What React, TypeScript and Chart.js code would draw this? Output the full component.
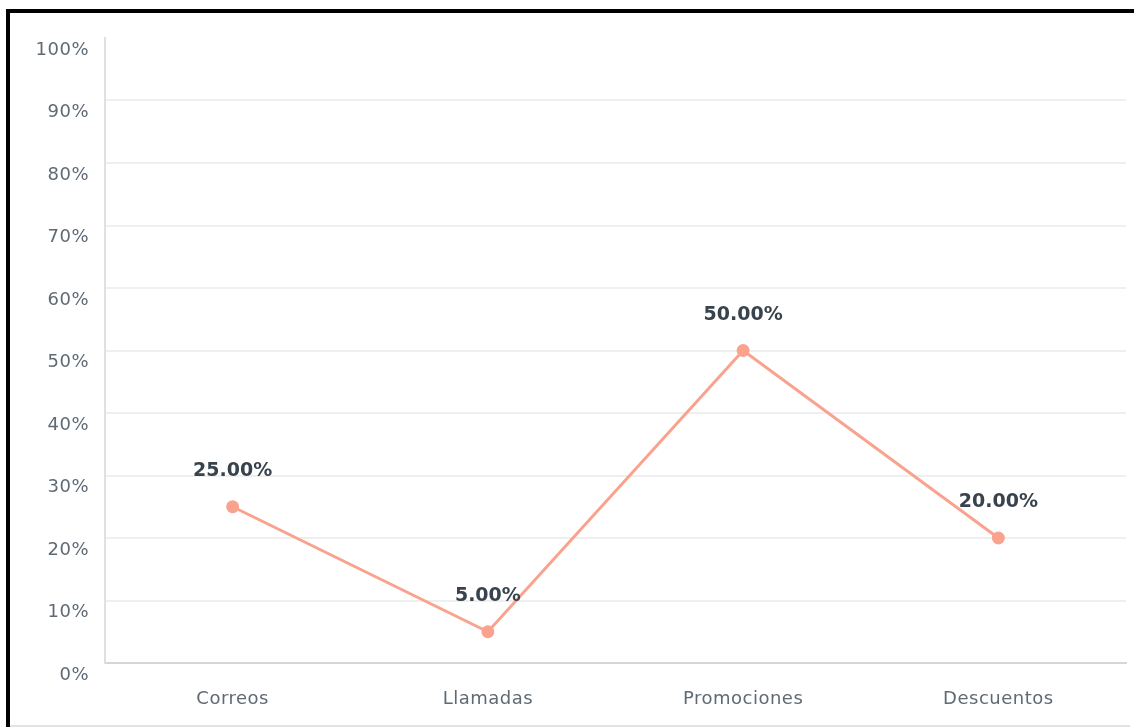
import React, { useEffect, useRef } from "react";
import { Chart, registerables } from "chart.js";

Chart.register(...registerables);

const categories: string[] = ["Correos", "Llamadas", "Promociones", "Descuentos"];
const values: number[] = [25, 5, 50, 20];
const yTicks: number[] = [0, 10, 20, 30, 40, 50, 60, 70, 80, 90, 100];

const TICK_FONT = "DejaVu Sans";

const spacingPlugin = {
  id: "spacing",
  beforeUpdate(chart: any) {
    chart.ctx.letterSpacing = "0.5px";
  },
  beforeDraw(chart: any) {
    chart.ctx.letterSpacing = "0.5px";
  },
};

const labelPlugin = {
  id: "pointLabels",
  afterDatasetsDraw(chart: any) {
    const ctx = chart.ctx;
    const meta = chart.getDatasetMeta(0);
    ctx.save();
    ctx.letterSpacing = "0px";
    ctx.font = `bold 19px ${TICK_FONT}`;
    ctx.fillStyle = "#38434d";
    ctx.textAlign = "center";
    ctx.textBaseline = "middle";
    meta.data.forEach((pt: any, i: number) => {
      ctx.fillText(values[i].toFixed(2) + "%", pt.x, pt.y - 35.5);
    });
    ctx.restore();
  },
};

export default function App() {
  const ref = useRef<HTMLCanvasElement | null>(null);
  useEffect(() => {
    if (!ref.current) return;
    const chart = new Chart(ref.current, {
      type: "line",
      data: {
        labels: categories,
        datasets: [
          {
            data: values,
            borderColor: "#f9a38e",
            backgroundColor: "#f9a38e",
            borderWidth: 3,
            pointRadius: 6.5,
            pointHoverRadius: 6.5,
            pointBorderWidth: 0,
            tension: 0,
          },
        ],
      },
      plugins: [spacingPlugin, labelPlugin],
      options: {
        responsive: false,
        animation: false,
        layout: { padding: { top: 38, right: 8, left: 0, bottom: 0 } },
        plugins: { legend: { display: false }, tooltip: { enabled: false } },
        scales: {
          x: {
            offset: true,
            grid: { display: false, drawTicks: false },
            border: { display: true, color: "#d6d6d6", width: 2 },
            ticks: {
              color: "#5f6a75",
              font: { family: TICK_FONT, size: 18 },
              padding: 26,
              maxRotation: 0,
            },
            afterFit(scale: any) {
              scale.height = 64;
            },
          },
          y: {
            min: 0,
            max: 100,
            afterBuildTicks(scale: any) {
              scale.ticks = yTicks.map((v) => ({ value: v }));
            },
            grid: {
              drawTicks: false,
              color: (c: any) => (c.tick && c.tick.value === 100 ? "rgba(0,0,0,0)" : "#efefef"),
              lineWidth: 2,
            },
            border: { display: true, color: "#e0e0e0", width: 2 },
            ticks: {
              color: "#5f6a75",
              font: { family: TICK_FONT, size: 18 },
              padding: 16,
              labelOffset: 12,
              callback: (v: any) => v + "%",
            },
            afterFit(scale: any) {
              scale.width = 105;
            },
          },
        },
      },
    });
    return () => chart.destroy();
  }, []);

  return (
    <div style={{ position: "fixed", left: 0, top: 0, width: 1134, height: 727, overflow: "hidden", background: "#fff" }}>
      <div
        style={{
          position: "absolute",
          left: 6,
          top: 9,
          width: 1200,
          height: 800,
          borderTop: "4px solid #000",
          borderLeft: "4px solid #000",
        }}
      />
      <div style={{ position: "absolute", left: 10, top: 725, width: 1120, height: 2, background: "#e3e3e3" }} />
      <canvas ref={ref} width={1134} height={727} style={{ position: "absolute", left: 0, top: 0, width: 1134, height: 727 }} />
    </div>
  );
}
